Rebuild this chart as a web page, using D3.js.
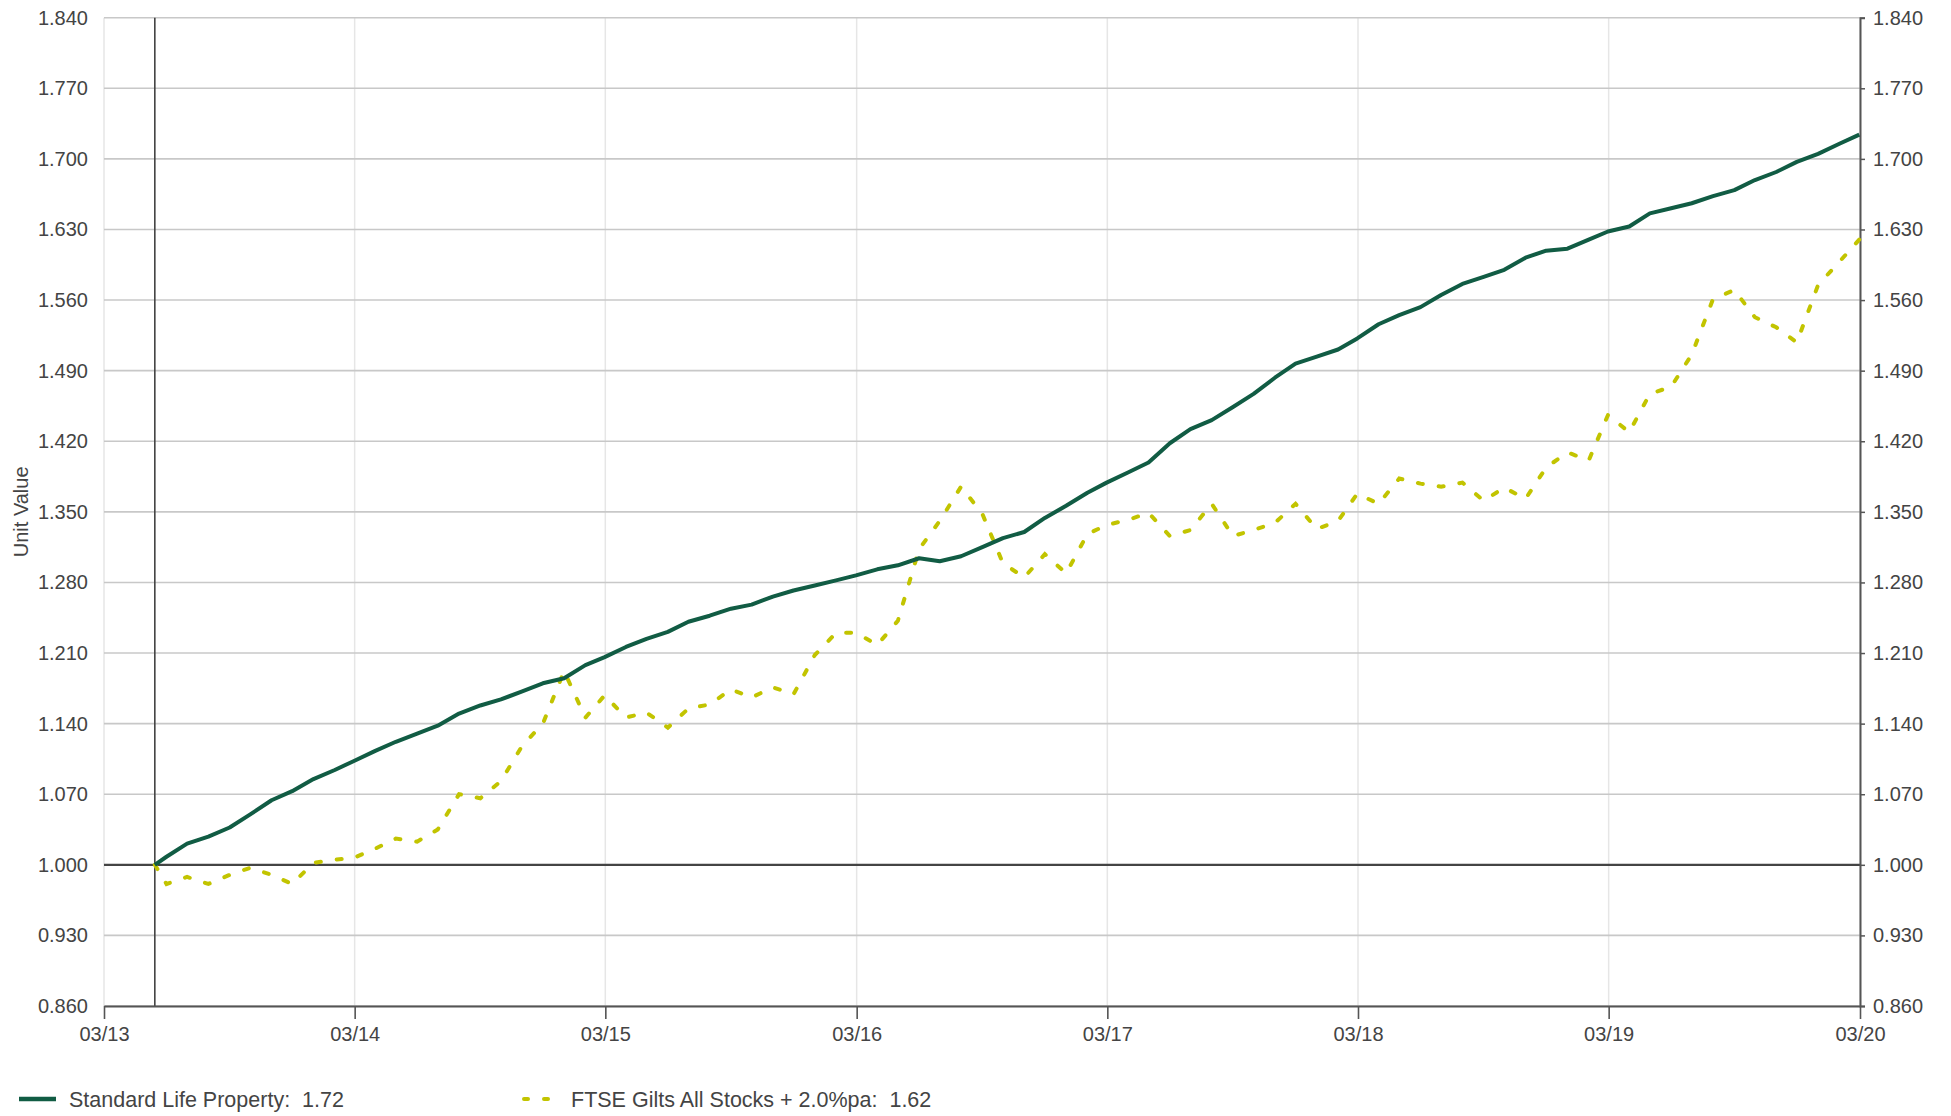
<!DOCTYPE html>
<html lang="en">
<head>
<meta charset="utf-8" />
<title>Unit Value</title>
<script src="https://d3js.org/d3.v7.min.js"></script>
<style>
  body { margin: 0; background: #fff; }
  text { font-family: "Liberation Sans", Arial, sans-serif; fill: #444; }
</style>
</head>
<body>
<script>
// first point is the launch date, then month ends May 2013 .. Feb 2020
var startDate = new Date(2013, 4, 14);
var monthEnds = d3.timeMonth.range(new Date(2013, 5, 1), new Date(2020, 2, 2))
  .map(function(d) { return d3.timeDay.offset(d, -1); });
var dates = [startDate].concat(monthEnds);

var propertyValues = [
  1.000, 1.008, 1.021, 1.028, 1.037, 1.050, 1.064, 1.073, 1.085, 1.094,
  1.103, 1.113, 1.122, 1.130, 1.138, 1.150, 1.158, 1.164, 1.172, 1.180,
  1.185, 1.198, 1.206, 1.216, 1.224, 1.231, 1.241, 1.247, 1.254, 1.258,
  1.266, 1.272, 1.277, 1.282, 1.287, 1.293, 1.297, 1.304, 1.301, 1.306,
  1.315, 1.324, 1.330, 1.344, 1.356, 1.369, 1.379, 1.389, 1.399, 1.418,
  1.432, 1.441, 1.454, 1.467, 1.483, 1.497, 1.504, 1.511, 1.522, 1.536,
  1.545, 1.553, 1.565, 1.576, 1.583, 1.590, 1.602, 1.609, 1.611, 1.620,
  1.628, 1.633, 1.646, 1.651, 1.656, 1.663, 1.669, 1.679, 1.687, 1.697,
  1.705, 1.715, 1.724
];
var giltValues = [
  1.000, 0.981, 0.988, 0.981, 0.990, 0.997, 0.990, 0.981, 1.002, 1.005,
  1.007, 1.016, 1.026, 1.023, 1.035, 1.070, 1.066, 1.083, 1.118, 1.140,
  1.192, 1.146, 1.168, 1.146, 1.151, 1.136, 1.155, 1.159, 1.174, 1.166,
  1.176, 1.169, 1.208, 1.230, 1.230, 1.218, 1.242, 1.313, 1.341, 1.375,
  1.348, 1.299, 1.285, 1.308, 1.289, 1.328, 1.337, 1.342, 1.349, 1.326,
  1.332, 1.358, 1.326, 1.332, 1.339, 1.358, 1.333, 1.341, 1.368, 1.358,
  1.383, 1.378, 1.375, 1.379, 1.361, 1.374, 1.363, 1.394, 1.409, 1.401,
  1.446, 1.429, 1.467, 1.474, 1.506, 1.561, 1.570, 1.543, 1.533, 1.518,
  1.575, 1.598, 1.620
];
var seriesNames = ["Standard Life Property:  1.72", "FTSE Gilts All Stocks + 2.0%pa:  1.62"];
var yTicks = d3.range(15).map(function(i) { return +(0.86 + i * 0.07).toFixed(2); });
var xTicks = d3.range(2013, 2021).map(function(yr) { return new Date(yr, 2, 1); });

var W = 1951, H = 1116;
var plotL = 104, plotR = 1860, plotT = 17.7, plotB = 1006;

var svg = d3.select('body').append('svg')
  .attr('width', W)
  .attr('height', H);

var x = d3.scaleTime()
  .domain([new Date(2013, 2, 1), new Date(2020, 2, 1)])
  .range([plotL, plotR]);
var y = d3.scaleLinear()
  .domain([0.86, 1.84])
  .range([plotB, plotT]);

// vertical gridlines
svg.append('g').selectAll('line')
  .data(xTicks).enter().append('line')
  .attr('x1', function(d) { return x(d); })
  .attr('x2', function(d) { return x(d); })
  .attr('y1', plotT)
  .attr('y2', plotB)
  .attr('stroke', '#e6e6e6')
  .attr('stroke-width', 1.5);

// horizontal gridlines
svg.append('g').selectAll('line')
  .data(yTicks).enter().append('line')
  .attr('x1', plotL)
  .attr('x2', plotR)
  .attr('y1', function(d) { return y(d); })
  .attr('y2', function(d) { return y(d); })
  .attr('stroke', function(d) { return d === 1 ? '#444' : '#c8c8c8'; })
  .attr('stroke-width', function(d) { return d === 1 ? 2.2 : 1.6; });

// start of series marker
svg.append('line')
  .attr('x1', x(startDate)).attr('x2', x(startDate))
  .attr('y1', plotT).attr('y2', plotB)
  .attr('stroke', '#444')
  .attr('stroke-width', 1.6);

// left tick labels
svg.append('g').selectAll('text')
  .data(yTicks).enter().append('text')
  .attr('x', plotL - 16)
  .attr('y', function(d) { return y(d); })
  .attr('dy', '0.35em')
  .attr('text-anchor', 'end')
  .style('font-size', '20px')
  .text(d3.format('.3f'));

// right axis
var rightAxis = svg.append('g')
  .attr('transform', 'translate(' + plotR + ',0)')
  .call(d3.axisRight(y).tickValues(yTicks).tickFormat(d3.format('.3f')).tickSize(5).tickPadding(8));
rightAxis.select('.domain').attr('stroke', '#555').attr('stroke-width', 2);
rightAxis.selectAll('.tick line').attr('stroke', '#555').attr('stroke-width', 1.5);
rightAxis.selectAll('text')
  .style('font-size', '20px')
  .style('font-family', '"Liberation Sans", Arial, sans-serif')
  .attr('fill', '#444');

// bottom axis
var bottomAxis = svg.append('g')
  .attr('transform', 'translate(0,' + plotB + ')')
  .call(d3.axisBottom(x).tickValues(xTicks).tickFormat(d3.timeFormat('%m/%y')).tickSizeInner(13).tickSizeOuter(0).tickPadding(8));
bottomAxis.select('.domain').attr('stroke', '#555').attr('stroke-width', 2.2);
bottomAxis.selectAll('.tick line').attr('stroke', '#555').attr('stroke-width', 1.6);
bottomAxis.selectAll('text')
  .style('font-size', '20px')
  .style('font-family', '"Liberation Sans", Arial, sans-serif')
  .attr('fill', '#444');

// axis title
svg.append('text')
  .attr('transform', 'translate(28,' + ((plotT + plotB) / 2) + ') rotate(-90)')
  .attr('text-anchor', 'middle')
  .style('font-size', '20px')
  .text('Unit Value');

var line = d3.line()
  .x(function(d, i) { return x(dates[i]); })
  .y(function(d) { return y(d); });

svg.append('path')
  .datum(giltValues)
  .attr('d', line)
  .attr('fill', 'none')
  .attr('stroke', '#c2c400')
  .attr('stroke-width', 4)
  .attr('stroke-linecap', 'round')
  .attr('stroke-dasharray', '5,16');

svg.append('path')
  .datum(propertyValues)
  .attr('d', line)
  .attr('fill', 'none')
  .attr('stroke', '#115c44')
  .attr('stroke-width', 4)
  .attr('stroke-linejoin', 'round');

// legend
var legendY = 1099;
var legend = svg.append('g');
legend.append('line')
  .attr('x1', 19).attr('x2', 56)
  .attr('y1', legendY).attr('y2', legendY)
  .attr('stroke', '#115c44')
  .attr('stroke-width', 4.5);
legend.append('line')
  .attr('x1', 524).attr('x2', 552)
  .attr('y1', legendY).attr('y2', legendY)
  .attr('stroke', '#c2c400')
  .attr('stroke-width', 4)
  .attr('stroke-linecap', 'round')
  .attr('stroke-dasharray', '4,16');
legend.selectAll('text')
  .data(seriesNames).enter().append('text')
  .attr('x', function(d, i) { return i === 0 ? 69 : 571; })
  .attr('y', legendY)
  .attr('dy', '0.35em')
  .style('font-size', '21.5px')
  .style('white-space', 'pre')
  .text(function(d) { return d; });
</script>
</body>
</html>
